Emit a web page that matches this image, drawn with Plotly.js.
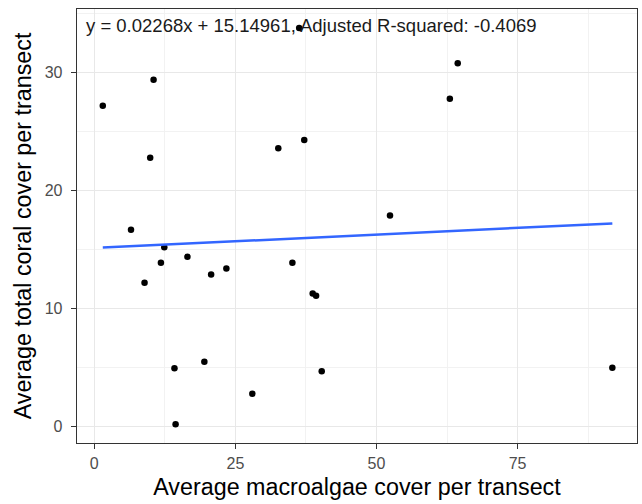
<!DOCTYPE html>
<html>
<head>
<meta charset="utf-8">
<script src="https://cdn.plot.ly/plotly-3.0.1.min.js"></script>
<style>html,body{margin:0;padding:0;background:#fff;}#chart{width:642px;height:504px;}</style>
</head>
<body>
<div id="chart"></div>
<script>
// Data
const macroalgae = [1.5, 10.5, 9.9, 32.6, 37.2, 36.3, 6.5, 12.4, 8.9, 11.8, 16.5, 20.7, 23.4, 35.1, 38.7, 39.3, 14.2, 19.5, 28.0, 14.4, 40.3, 64.4, 63.0, 52.4, 91.8];
const coral      = [27.2, 29.4, 22.8, 23.6, 24.3, 33.8, 16.7, 15.2, 12.2, 13.9, 14.4, 12.9, 13.4, 13.9, 11.3, 11.1, 4.95, 5.5, 2.8, 0.2, 4.7, 30.8, 27.8, 17.9, 5.0];
const slope = 0.02268;
const intercept = 15.14961;
const fitLabel = "y = 0.02268x + 15.14961, Adjusted R-squared: -0.4069";
const xTitle = "Average macroalgae cover per transect";
const yTitle = "Average total coral cover per transect";

const xMin = Math.min(...macroalgae), xMax = Math.max(...macroalgae);
const lineX = [xMin, xMax];
const lineY = lineX.map(v => intercept + slope * v);

const font = "Liberation Sans, Arial, Helvetica, sans-serif";

const traces = [
  {x: macroalgae, y: coral, type: 'scatter', mode: 'markers',
   marker: {color: '#000000', size: 6.5}, hoverinfo: 'skip'},
  {x: lineX, y: lineY, type: 'scatter', mode: 'lines',
   line: {color: '#3366FF', width: 2.5}, hoverinfo: 'skip'}
];

const axisCommon = {
  showgrid: true, gridcolor: '#E8E8E8', gridwidth: 1.3,
  zeroline: false, showline: true, mirror: true, linecolor: '#333333', linewidth: 1.3,
  ticks: 'outside', ticklen: 5, tickwidth: 1.3, tickcolor: '#333333',
  tickfont: {family: font, size: 16, color: '#4D4D4D'}
};

const layout = {
  width: 642, height: 504,
  margin: {l: 77, r: 5, t: 9, b: 61},
  paper_bgcolor: '#ffffff', plot_bgcolor: '#ffffff',
  showlegend: false,
  font: {family: font},
  xaxis: Object.assign({}, axisCommon, {
    range: [-3.07, 96.17], tickmode: 'array', tickvals: [0, 25, 50, 75],
    ticktext: ['0', '25', '50', '75'],
    minor: {tickmode: 'array', tickvals: [12.5, 37.5, 62.5, 87.5], showgrid: true, gridcolor: '#F1F1F1', gridwidth: 0.9, ticks: ''},
    title: {text: xTitle, font: {family: font, size: 23.3, color: '#000000'}, standoff: 8}
  }),
  yaxis: Object.assign({}, axisCommon, {
    range: [-1.38, 35.4], tickmode: 'array', tickvals: [0, 10, 20, 30],
    ticktext: ['0', '10', '20', '30'], ticklabelstandoff: 5,
    minor: {tickmode: 'array', tickvals: [5, 15, 25, 35], showgrid: true, gridcolor: '#F1F1F1', gridwidth: 0.9, ticks: ''},
    title: {text: yTitle, font: {family: font, size: 23.3, color: '#000000'}, standoff: 6}
  }),
  annotations: [{
    xref: 'paper', yref: 'paper', x: 0.0125, y: 0.961, xanchor: 'left', yanchor: 'middle',
    text: fitLabel, showarrow: false,
    font: {family: font, size: 18.5, color: '#1A1A1A'}
  }]
};

Plotly.newPlot('chart', traces, layout, {staticPlot: true, displayModeBar: false});
</script>
</body>
</html>
